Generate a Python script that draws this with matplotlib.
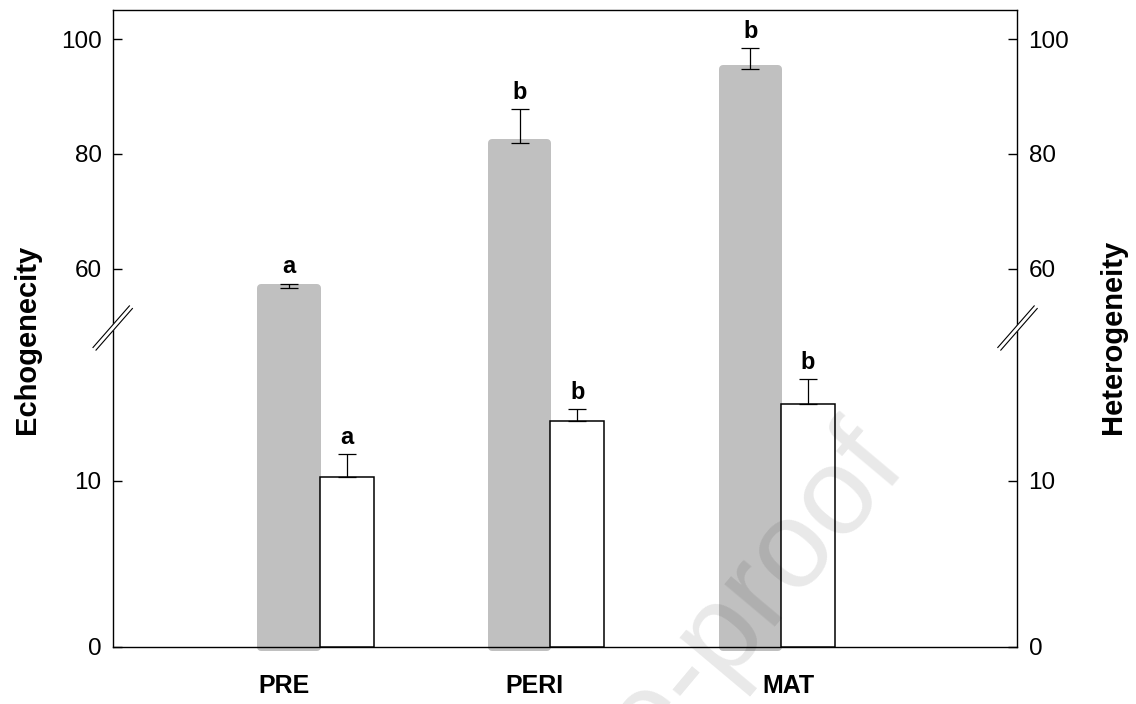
import matplotlib.pyplot as plt
import numpy as np
from matplotlib.lines import Line2D

# ---------- data ----------
stages = ["PRE", "PERI", "MAT"]
echogenecity = np.array([56.7, 81.9, 94.8])
echogenecity_err = np.array([0.7, 5.9, 3.6])
heterogeneity = np.array([10.2, 13.6, 14.6])
heterogeneity_err = np.array([1.4, 0.7, 1.5])
echo_letters = ["a", "b", "b"]
hetero_letters = ["a", "b", "b"]

plt.rcParams["font.family"] = ["Liberation Sans", "DejaVu Sans"]

W, H = 1136, 704
GRAY = "#C0C0C0"
LOW_LIM = (0, 19.3)
HIGH_LIM = (50, 105.1)

fig = plt.figure(figsize=(W / 100, H / 100), dpi=100)
# two stacked axes make the broken y axis
ax_hi = fig.add_axes([112.7 / W, 1 - 326 / H, 904.8 / W, 316 / H])
ax_lo = fig.add_axes([112.7 / W, 1 - 646.7 / H, 904.8 / W, 320.7 / H])

x = np.arange(len(stages))
gray_x, gray_w = x - 0.133, 0.24
white_x, white_w = x + 0.117, 0.234
label_x = [-0.154, 0.93, 2.032]

# ---------- gray bars (echogenecity), split over both axes ----------
ax_lo.bar(gray_x, np.minimum(echogenecity, LOW_LIM[1]), width=gray_w,
          color=GRAY, edgecolor=GRAY, linewidth=5.76, joinstyle="round",
          clip_on=False, zorder=2)
ax_hi.bar(gray_x, echogenecity - HIGH_LIM[0], bottom=HIGH_LIM[0], width=gray_w,
          color=GRAY, edgecolor=GRAY, linewidth=5.76, joinstyle="round",
          clip_on=False, zorder=2)

# ---------- white bars (heterogeneity) ----------
ax_lo.bar(white_x, heterogeneity, width=white_w, color="white",
          edgecolor="black", linewidth=1.1, zorder=3)

# ---------- error bars (upper only) ----------
ax_hi.errorbar(gray_x, echogenecity, yerr=[np.zeros(3), echogenecity_err],
               fmt="none", ecolor="black", elinewidth=0.9, capsize=6.6,
               capthick=0.9, zorder=4)
ax_lo.errorbar(white_x, heterogeneity, yerr=[np.zeros(3), heterogeneity_err],
               fmt="none", ecolor="black", elinewidth=0.9, capsize=6.6,
               capthick=0.9, zorder=4)

# ---------- significance letters ----------
for xi, v, e, t in zip(gray_x, echogenecity, echogenecity_err, echo_letters):
    ax_hi.annotate(t, (xi, v + e), xytext=(0, 7.5), textcoords="offset points",
                   ha="center", va="baseline", fontsize=17, fontweight="bold")
for xi, v, e, t in zip(white_x, heterogeneity, heterogeneity_err, hetero_letters):
    ax_lo.annotate(t, (xi, v + e), xytext=(0, 7.5), textcoords="offset points",
                   ha="center", va="baseline", fontsize=17, fontweight="bold")

# ---------- axes styling ----------
for ax in (ax_hi, ax_lo):
    ax.set_xlim(-0.897, 3.026)
    ax.patch.set_alpha(0)
    for sp in ax.spines.values():
        sp.set_linewidth(1.0)
    ax.tick_params(axis="y", direction="in", length=6.5, width=1,
                   left=True, right=True, labelleft=True, labelright=True,
                   labelsize=17.5, pad=8)

ax_hi.set_ylim(*HIGH_LIM)
ax_hi.set_yticks([60, 80, 100])
ax_hi.spines["bottom"].set_visible(False)
ax_hi.tick_params(axis="x", bottom=False, labelbottom=False)

ax_lo.set_ylim(*LOW_LIM)
ax_lo.set_yticks([0, 10])
ax_lo.spines["top"].set_visible(False)
ax_lo.set_xticks(label_x, stages, fontweight="bold")
ax_lo.tick_params(axis="x", length=0, pad=20, labelsize=18)

fig.text(27 / W, 1 - 339 / H, "Echogenecity", rotation=90, ha="center",
         va="center", fontsize=21, fontweight="bold")
fig.text(1113 / W, 1 - 337 / H, "Heterogeneity", rotation=90, ha="center",
         va="center", fontsize=21, fontweight="bold")


# ---------- break marks "//" on both spines ----------
def draw_break(xc, yc):
    d = np.array([18.2, 20.8])  # half length, pixels (x right, y up)
    n = np.array([0.752, -0.658]) * 2.0  # perpendicular offset
    c = np.array([xc, H - yc])
    p0, p1 = c - d, c + d
    fig.add_artist(Line2D([p0[0] / 100, p1[0] / 100], [p0[1] / 100, p1[1] / 100],
                          transform=fig.dpi_scale_trans, color="white", lw=3.2,
                          zorder=5))
    for s in (-1, 1):
        a, b = p0 + s * n, p1 + s * n
        fig.add_artist(Line2D([a[0] / 100, b[0] / 100], [a[1] / 100, b[1] / 100],
                              transform=fig.dpi_scale_trans, color="black",
                              lw=0.8, zorder=6))


draw_break(112.7, 328)
draw_break(1017.5, 328)

# watermark of the source pdf
fig.text(0.80, 0.335, "Journal Pre-proof", rotation=50, rotation_mode="anchor",
         ha="right", va="baseline", fontsize=90, color="black", alpha=0.09,
         zorder=10)

fig.savefig("out.png", dpi=100)
